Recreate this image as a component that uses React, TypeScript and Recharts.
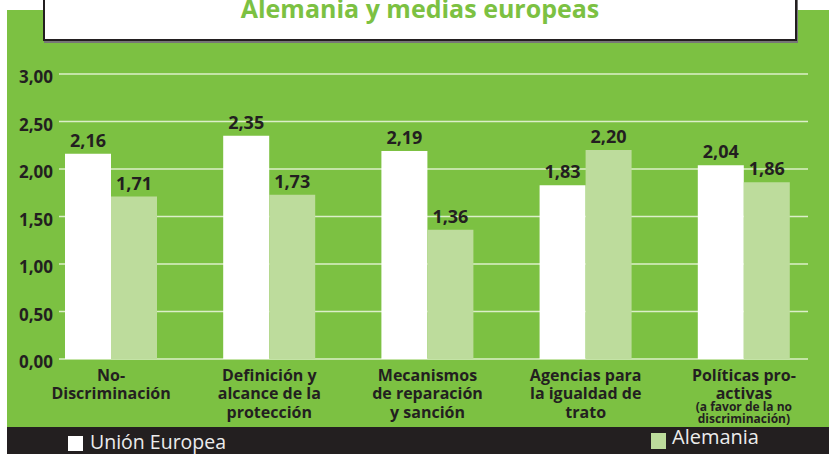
import React from "react";
import {
  BarChart,
  Bar,
  XAxis,
  YAxis,
  CartesianGrid,
  LabelList,
} from "recharts";

const categories = [
  "No-\nDiscriminación",
  "Definición y\nalcance de la\nprotección",
  "Mecanismos\nde reparación\ny sanción",
  "Agencias para\nla igualdad de\ntrato",
  "Políticas pro-\nactivas",
];
const notes = ["", "", "", "", "(a favor de la no\ndiscriminación)"];
const ueValues = [2.16, 2.35, 2.19, 1.83, 2.04];
const deValues = [1.71, 1.73, 1.36, 2.2, 1.86];
const yTicks = [0, 0.5, 1, 1.5, 2, 2.5, 3];

const data = categories.map((name, i) => ({
  name,
  note: notes[i],
  ue: ueValues[i],
  de: deValues[i],
}));

const GREEN = "#7cc142";
const LIGHT = "#bddc9c";
const DARK = "#231f20";
const FONT = "'Open Sans', 'DejaVu Sans', sans-serif";

const fmt = (v: any) => Number(v).toFixed(2).replace(".", ",");

const CategoryTick = ({ x, y, payload, index }: any) => {
  const lines = String(payload.value).split("\n");
  const note = data[index] ? data[index].note : "";
  const noteLines = note ? note.split("\n") : [];
  return (
    <g>
      <text
        x={x}
        y={y}
        textAnchor="middle"
        fill={DARK}
        fontFamily={FONT}
        fontWeight={700}
        fontSize={16}
      >
        {lines.map((l, i) => (
          <tspan key={i} x={x} dy={i === 0 ? 21.5 : 18.5}>
            {l}
          </tspan>
        ))}
      </text>
      {noteLines.length > 0 && (
        <text
          x={x}
          y={y + 52}
          textAnchor="middle"
          fill={DARK}
          fontFamily={FONT}
          fontWeight={700}
          fontSize={12}
        >
          {noteLines.map((l, i) => (
            <tspan key={i} x={x} dy={i === 0 ? 0 : 11.5}>
              {l}
            </tspan>
          ))}
        </text>
      )}
    </g>
  );
};

const gridLine = (props: any) => (
  <line
    key={props.key}
    x1={props.x1 + 27}
    x2={props.x2 - 15}
    y1={props.y1}
    y2={props.y2}
    stroke="#dcefc9"
    strokeWidth={1.5}
  />
);

export default function App() {
  return (
    <div
      style={{
        position: "absolute",
        left: 0,
        top: 0,
        width: 829,
        height: 454,
        background: "#ffffff",
        overflow: "hidden",
        fontFamily: FONT,
      }}
    >
      <div
        style={{
          position: "absolute",
          left: 7,
          top: 10,
          width: 822,
          height: 417,
          background: GREEN,
        }}
      />
      <div
        style={{
          position: "absolute",
          left: 7,
          top: 427,
          width: 822,
          height: 27,
          background: DARK,
        }}
      >
        <div
          style={{
            position: "absolute",
            left: 61,
            top: 9,
            width: 15,
            height: 15,
            background: "#ffffff",
          }}
        />
        <div
          style={{
            position: "absolute",
            left: 83,
            top: 2,
            color: "#ececec",
            fontSize: 19.5,
            lineHeight: "26px",
            whiteSpace: "nowrap",
          }}
        >
          Unión Europea
        </div>
        <div
          style={{
            position: "absolute",
            left: 644,
            top: 6,
            width: 15,
            height: 16,
            background: LIGHT,
          }}
        />
        <div
          style={{
            position: "absolute",
            left: 665,
            top: -3,
            color: "#ececec",
            fontSize: 20,
            lineHeight: "26px",
            whiteSpace: "nowrap",
          }}
        >
          Alemania
        </div>
      </div>
      <div
        style={{
          position: "absolute",
          left: 43,
          top: -4,
          width: 750,
          height: 41,
          background: "#ffffff",
          border: `2px solid ${DARK}`,
          boxShadow: "1px 2px 0 #777777",
        }}
      >
        <div
          style={{
            position: "absolute",
            left: 0,
            right: 0,
            top: -5,
            textAlign: "center",
            color: GREEN,
            fontSize: 25,
            fontWeight: 700,
            lineHeight: "30px",
          }}
        >
          Alemania y medias europeas
        </div>
      </div>
      <div style={{ position: "absolute", left: 0, top: 0 }}>
        <BarChart
          width={829}
          height={454}
          data={data}
          margin={{ top: 74, right: 6, bottom: 35, left: 0 }}
          barGap={0}
          barSize={46}
        >
          <CartesianGrid vertical={false} horizontal={gridLine} />
          <XAxis
            dataKey="name"
            height={60}
            tickLine={false}
            axisLine={false}
            tickSize={0}
            tickMargin={0}
            interval={0}
            tick={<CategoryTick />}
          />
          <YAxis
            width={32}
            domain={[0, 3]}
            ticks={yTicks}
            tickFormatter={fmt}
            tickLine={false}
            axisLine={false}
            tickSize={0}
            tickMargin={0}
            tick={{
              fill: DARK,
              fontFamily: FONT,
              fontWeight: 700,
              fontSize: 17,
              dx: 21,
              dy: 3,
            }}
          />
          <Bar dataKey="ue" fill="#ffffff" isAnimationActive={false}>
            <LabelList
              dataKey="ue"
              position="top"
              offset={7}
              formatter={fmt}
              fill={DARK}
              fontFamily={FONT}
              fontWeight={700}
              fontSize={18}
            />
          </Bar>
          <Bar dataKey="de" fill={LIGHT} isAnimationActive={false}>
            <LabelList
              dataKey="de"
              position="top"
              offset={7}
              formatter={fmt}
              fill={DARK}
              fontFamily={FONT}
              fontWeight={700}
              fontSize={18}
            />
          </Bar>
        </BarChart>
      </div>
    </div>
  );
}
